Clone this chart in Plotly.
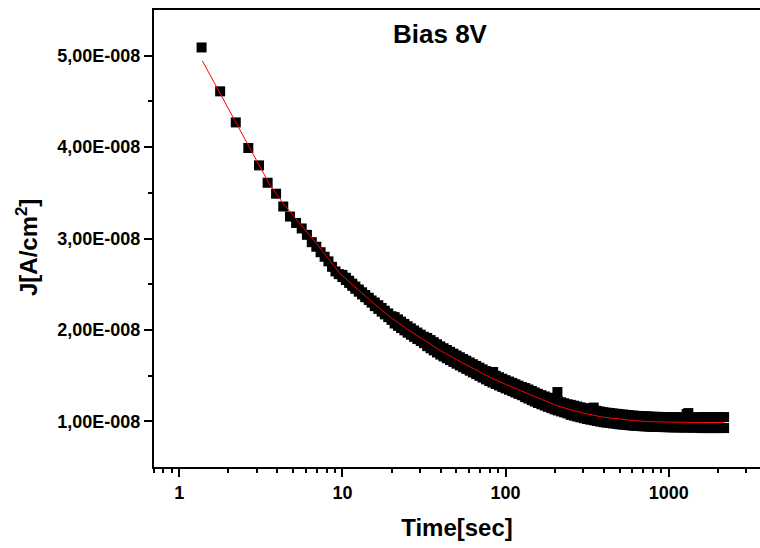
import plotly.graph_objects as go

# ---- data, J in units of 1e-8 A/cm^2 ----
# early, well separated points
t_early = [1.37, 1.78, 2.22, 2.65, 3.08, 3.48, 3.92, 4.34, 4.77, 5.2, 5.63, 6.06,
           6.49, 6.92, 7.35, 7.78, 8.21, 8.64, 9.07, 9.5]
j_early = [5.09, 4.61, 4.27, 3.99, 3.80, 3.61, 3.49, 3.35, 3.24, 3.17, 3.11, 3.04,
           2.96, 2.91, 2.85, 2.80, 2.75, 2.69, 2.64, 2.61]

# dense part of the record: upper and lower edge of the scatter band
t_dense = [10.0, 10.5, 11.0, 11.5, 12.0, 12.6, 13.2, 13.8, 14.5, 15.1,
           15.8, 16.6, 17.4, 18.2, 19.1, 20.0, 20.9, 21.9, 22.9, 24.0,
           25.1, 26.3, 27.5, 28.8, 30.2, 31.6, 33.1, 34.7, 36.3, 38.0,
           39.8, 41.7, 43.7, 45.7, 47.9, 50.1, 52.5, 55.0, 57.5, 60.3,
           63.1, 66.1, 69.2, 72.4, 75.9, 79.4, 83.2, 87.1, 91.2, 95.5,
           100, 105, 110, 115, 120, 126, 132, 138, 145, 151,
           158, 166, 174, 182, 191, 200, 209, 219, 229, 240,
           251, 263, 275, 288, 302, 316, 331, 347, 363, 380,
           398, 417, 437, 457, 479, 501, 525, 550, 575, 603,
           631, 661, 692, 724, 759, 794, 832, 871, 912, 955,
           1000, 1047, 1096, 1148, 1202, 1259, 1318, 1380, 1445, 1514,
           1585, 1660, 1738, 1820, 1905, 1995, 2089, 2188]
j_upper = [2.602, 2.570, 2.538, 2.506, 2.474, 2.442, 2.412, 2.382, 2.352, 2.322,
           2.300, 2.270, 2.240, 2.210, 2.180, 2.150,
           2.140, 2.115, 2.090, 2.065, 2.040, 2.017, 1.994, 1.971, 1.948, 1.925,
           1.912, 1.889, 1.866, 1.843, 1.820, 1.800, 1.780, 1.760, 1.740, 1.720,
           1.701, 1.682, 1.663, 1.644, 1.625, 1.606, 1.587, 1.568, 1.549, 1.530,
           1.514, 1.498, 1.482, 1.466, 1.450, 1.435, 1.420, 1.405, 1.390, 1.375,
           1.364, 1.348, 1.332, 1.316, 1.300, 1.286, 1.272, 1.258, 1.244, 1.230,
           1.219, 1.208, 1.197, 1.186,
           1.180, 1.171, 1.162, 1.153, 1.144, 1.135, 1.128, 1.121, 1.114, 1.107,
           1.100, 1.095, 1.091, 1.086, 1.082, 1.077, 1.074, 1.070, 1.067, 1.063,
           1.060, 1.058, 1.056, 1.054, 1.052, 1.050, 1.049, 1.048, 1.047, 1.046,
           1.045, 1.044, 1.044, 1.043, 1.043, 1.042, 1.042, 1.042, 1.041, 1.041,
           1.046, 1.046, 1.046, 1.046, 1.046, 1.046, 1.046, 1.046]
j_lower = [2.578, 2.546, 2.514, 2.482, 2.450, 2.418, 2.388, 2.358, 2.328, 2.298,
           2.260, 2.230, 2.200, 2.170, 2.140, 2.110,
           2.070, 2.045, 2.020, 1.995, 1.970, 1.947, 1.924, 1.901, 1.878, 1.855,
           1.822, 1.799, 1.776, 1.753, 1.730, 1.710, 1.690, 1.670, 1.650, 1.630,
           1.611, 1.592, 1.573, 1.554, 1.535, 1.516, 1.497, 1.478, 1.459, 1.440,
           1.424, 1.408, 1.392, 1.376, 1.360, 1.345, 1.330, 1.315, 1.300, 1.285,
           1.264, 1.248, 1.232, 1.216, 1.200, 1.186, 1.172, 1.158, 1.144, 1.130,
           1.119, 1.108, 1.097, 1.086,
           1.070, 1.061, 1.052, 1.043, 1.034, 1.025, 1.018, 1.011, 1.004, 0.997,
           0.990, 0.985, 0.981, 0.976, 0.972, 0.967, 0.964, 0.960, 0.957, 0.953,
           0.950, 0.948, 0.946, 0.944, 0.942, 0.940, 0.939, 0.938, 0.937, 0.936,
           0.935, 0.934, 0.934, 0.933, 0.933, 0.932, 0.932, 0.932, 0.931, 0.931,
           0.926, 0.926, 0.926, 0.926, 0.926, 0.926, 0.926, 0.926]

t_outliers = [84, 208, 347, 1290, 1320]
j_outliers = [1.54, 1.32, 1.15, 1.08, 1.09]

# red fitted curve
t_fit = [1.384, 1.7, 2.143, 2.8, 3.6, 4.34, 5.5, 7.2, 9.67, 12.6, 15.8, 20.0,
         25.1, 31.6, 39.8, 50.1, 63.1, 79.4, 100, 126, 158, 200, 251, 316,
         398, 501, 631, 794, 1000, 1259, 1585, 1995, 2200]
j_fit = [4.945, 4.65, 4.314, 3.93, 3.583, 3.382, 3.16, 2.91, 2.615, 2.43, 2.28, 2.13,
         2.005, 1.89, 1.775, 1.675, 1.58, 1.485, 1.405, 1.33, 1.25, 1.18, 1.125, 1.08,
         1.045, 1.022, 1.005, 0.995, 0.99, 0.987, 0.986, 0.986, 0.986]

SCALE = 1e-8
y_tickvals = [1e-8, 2e-8, 3e-8, 4e-8, 5e-8]
y_ticktext = ["1,00E-008", "2,00E-008", "3,00E-008", "4,00E-008", "5,00E-008"]
y_minor = [1.5e-8, 2.5e-8, 3.5e-8, 4.5e-8]
x_tickvals = [1, 10, 100, 1000]
x_ticktext = ["1", "10", "100", "1000"]
x_minor = [0.7, 0.8, 0.9, 2, 3, 4, 5, 6, 7, 8, 9, 20, 30, 40, 50, 60, 70, 80, 90,
           200, 300, 400, 500, 600, 700, 800, 900, 2000, 3000]

t_all = t_early + t_dense + t_dense + t_outliers
j_all = [v * SCALE for v in (j_early + j_upper + j_lower + j_outliers)]

FONT = "Liberation Sans, Arial, sans-serif"
W, H = 760, 548
ML, MR, MT, MB = 154, 0, 10, 81
PW, PH = W - ML - MR, H - MT - MB


def px_x(px):
    return (px - ML) / PW


def px_y(py):
    return (H - MB - py) / PH


fig = go.Figure()
fig.add_trace(go.Scatter(
    x=t_all, y=j_all, mode="markers",
    marker=dict(symbol="square", size=10, color="black", line=dict(width=0)),
    showlegend=False, hoverinfo="skip"))
fig.add_trace(go.Scatter(
    x=t_fit, y=[v * SCALE for v in j_fit], mode="lines",
    line=dict(color="#ff0000", width=1), showlegend=False, hoverinfo="skip"))

fig.update_layout(
    width=W, height=H,
    margin=dict(l=ML, r=MR, t=MT, b=MB, pad=0),
    paper_bgcolor="white", plot_bgcolor="white",
    font=dict(family=FONT, color="black"),
    annotations=[
        dict(text="<b>Bias 8V</b>", x=px_x(440), y=px_y(34),
             xref="paper", yref="paper", xanchor="center", yanchor="middle",
             showarrow=False, font=dict(size=26, family=FONT, color="black")),
        dict(text="<b>J[A/cm<sup>2</sup>]</b>", x=px_x(27), y=px_y(248), textangle=-90,
             xref="paper", yref="paper", xanchor="center", yanchor="middle",
             showarrow=False, font=dict(size=24, family=FONT, color="black")),
    ],
)

fig.update_xaxes(
    type="log", range=[-0.155, 3.56], automargin=False,
    tickmode="array", tickvals=x_tickvals, ticktext=x_ticktext,
    ticks="outside", ticklen=8, tickwidth=2, tickcolor="black",
    tickfont=dict(size=18, family=FONT, color="black", weight="bold"),
    showline=True, linewidth=2, linecolor="black", mirror=True,
    showgrid=False, zeroline=False,
    minor=dict(tickmode="array", tickvals=x_minor, ticks="outside", ticklen=4,
               tickwidth=2, tickcolor="black", showgrid=False),
    title=dict(text="<b>Time[sec]</b>", font=dict(size=24, family=FONT, color="black"),
               standoff=18),
)
fig.update_yaxes(
    range=[0.5e-8, 5.5e-8], automargin=False,
    tickmode="array", tickvals=y_tickvals, ticktext=y_ticktext,
    ticks="outside", ticklen=8, tickwidth=2, tickcolor="black",
    tickfont=dict(size=18, family=FONT, color="black", weight="bold"),
    showline=True, linewidth=2, linecolor="black", mirror=False,
    showgrid=False, zeroline=False,
    minor=dict(tickmode="array", tickvals=y_minor,
               ticks="outside", ticklen=4, tickwidth=2, tickcolor="black", showgrid=False),
)

fig.write_html("out.html", config={"displayModeBar": False},
               post_script="document.body.style.margin='0';")
